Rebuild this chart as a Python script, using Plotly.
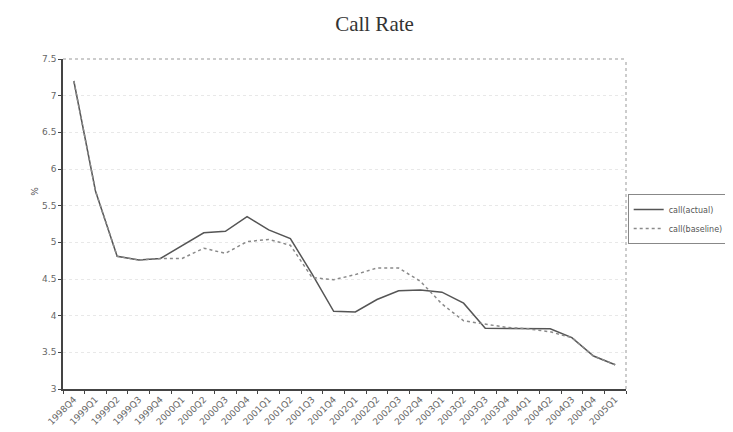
import plotly.graph_objects as go

quarters = ["1998Q4", "1999Q1", "1999Q2", "1999Q3", "1999Q4", "2000Q1", "2000Q2", "2000Q3",
            "2000Q4", "2001Q1", "2001Q2", "2001Q3", "2001Q4", "2002Q1", "2002Q2", "2002Q3",
            "2002Q4", "2003Q1", "2003Q2", "2003Q3", "2003Q4", "2004Q1", "2004Q2", "2004Q3",
            "2004Q4", "2005Q1"]
call_actual = [7.20, 5.70, 4.81, 4.76, 4.78, 4.95, 5.13, 5.15, 5.35, 5.17, 5.05, 4.57, 4.06,
               4.05, 4.22, 4.34, 4.35, 4.32, 4.17, 3.83, 3.83, 3.83, 3.82, 3.70, 3.45, 3.33]
call_baseline = [7.20, 5.70, 4.81, 4.76, 4.78, 4.78, 4.92, 4.85, 5.01, 5.04, 4.96, 4.52, 4.49,
                 4.56, 4.65, 4.65, 4.47, 4.16, 3.93, 3.89, 3.84, 3.82, 3.78, 3.70, 3.45, 3.33]
y_ticks = [3, 3.5, 4, 4.5, 5, 5.5, 6, 6.5, 7, 7.5]

fig = go.Figure()
fig.add_trace(go.Scatter(x=quarters, y=call_actual, mode="lines", name="call(actual)",
                         line=dict(color="#555555", width=1.5)))
fig.add_trace(go.Scatter(x=quarters, y=call_baseline, mode="lines", name="call(baseline)",
                         line=dict(color="#8a8a8a", width=1.5, dash="dot")))

fig.update_layout(
    width=733, height=432,
    paper_bgcolor="white", plot_bgcolor="white",
    margin=dict(l=55, r=112, t=51, b=51),
    title=dict(text="Call Rate", x=0.5, xanchor="center", y=0.963, yanchor="middle",
               font=dict(family="Liberation Serif, Times New Roman, serif", size=21, color="#333333")),
    font=dict(family="DejaVu Sans, Liberation Sans, sans-serif", size=8, color="#555555"),
    showlegend=True,
    legend=dict(x=1.003, xanchor="left", y=0.515, yanchor="middle",
                bordercolor="#888888", borderwidth=1, bgcolor="white", itemwidth=30,
                font=dict(size=8, color="#555555"), tracegroupgap=0),
)
fig.update_xaxes(
    type="category", range=[-0.5, len(quarters) - 0.5],
    tickson="boundaries", ticks="outside", ticklen=3, tickcolor="#444444",
    tickangle=-45, showline=True, linecolor="#444444", linewidth=1.5,
    showgrid=False, zeroline=False, tickfont=dict(size=9, color="#666666"),
)
fig.update_yaxes(
    range=[3, 7.5], tickvals=y_ticks, ticktext=[f"{v:g}" for v in y_ticks],
    ticks="outside", ticklen=3, tickcolor="#444444",
    showline=True, linecolor="#444444", linewidth=1.5,
    showgrid=True, gridcolor="#e8e8e8", griddash="dot", gridwidth=1,
    zeroline=False, tickfont=dict(size=9, color="#666666"),
)
fig.add_annotation(text="%", xref="paper", yref="paper", x=-0.05, y=0.6,
                   xanchor="center", yanchor="middle",
                   showarrow=False, textangle=-90, font=dict(size=9, color="#555555"))
# dotted top and right frame
fig.add_shape(type="line", xref="paper", yref="paper", x0=0, x1=1, y0=1, y1=1,
              line=dict(color="#999999", width=1, dash="dot"))
fig.add_shape(type="line", xref="paper", yref="paper", x0=1, x1=1, y0=0, y1=1,
              line=dict(color="#999999", width=1, dash="dot"))

fig.write_html("out.html")
